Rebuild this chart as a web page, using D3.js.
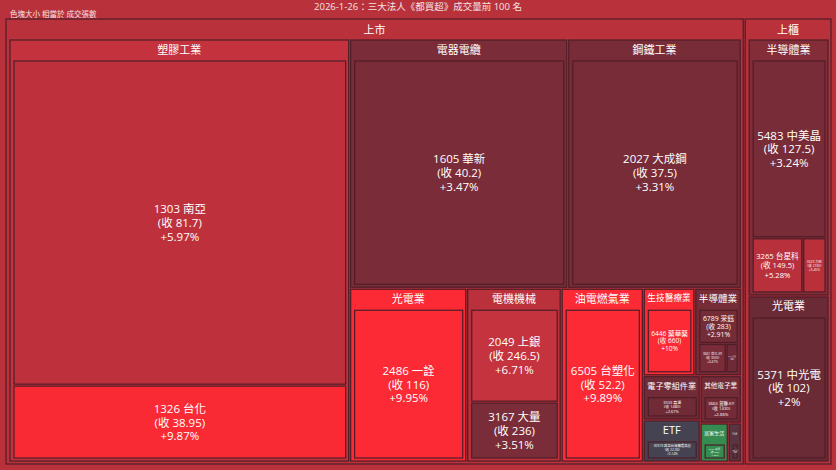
<!DOCTYPE html>
<html><head><meta charset="utf-8">
<script src="https://cdn.jsdelivr.net/npm/d3@7"></script>
<style>html,body{margin:0;padding:0;background:#b8313b;}svg{display:block;}</style>
</head><body>
<svg id="chart" width="836" height="470"></svg>
<script>
const title = "2026-1-26：三大法人《都買超》成交量前 100 名";
const subtitle = "色塊大小 相當於 成交張數";

// one entry per stock
const markets    = ["上市","上市","上市","上市","上市","上市","上市","上市","上市","上市","上市","上市","上市","上市","上市","上市","上市","上櫃","上櫃","上櫃","上櫃"];
const industries = ["塑膠工業","塑膠工業","電器電纜","鋼鐵工業","光電業","電機機械","電機機械","油電燃氣業","生技醫療業","半導體業","半導體業","半導體業","電子零組件業","其他電子業","ETF","居家生活","航運業","半導體業","半導體業","半導體業","光電業"];
const codes      = ["1303","1326","1605","2027","2486","2049","3167","6505","6446","6789","3661","3711","3533","3665","00919","8464","2618","5483","3265","3529","5371"];
const names      = ["南亞","台化","華新","大成鋼","一詮","上銀","大量","台塑化","藥華藥","采鈺","世芯-KY","日月光投控","嘉澤","貿聯-KY","群益台灣精選高息","億豐","長榮航","中美晶","台星科","力旺","中光電"];
const closes     = [81.7,38.95,40.2,37.5,116,246.5,236,52.2,660,283,3550,215,1480,1430,22.06,290,37.6,127.5,149.5,2165,102];
const changes    = [5.97,9.87,3.47,3.31,9.95,6.71,3.51,9.89,10,2.91,3.47,2.38,2.67,2.86,0.14,-1.52,0.94,3.24,5.28,5.45,2];
const volumes    = [114900,26100,53200,42300,19900,9960,6100,13960,4410,2140,1270,556,2460,1900,2340,1070,494,16690,3550,1630,14130];

// colour scale for % change
const colorStops  = [-3,-1,0,1,2,3.5,5.2,7,9.9];
const colorValues = ["#30cc5a","#35764e","#414554","#5b3440","#6a2b36","#7a2c38","#b7303b","#c7333e","#fb2a34"];
const color = d3.scaleLinear().domain(colorStops).range(colorValues).clamp(true);

const BG = "#b8313b", LINE = "#4e1e28", BASE = 11, LEAF = 11.5;
const FONT = "'Open Sans','Noto Sans CJK TC',sans-serif";

// build hierarchy
const rows = codes.map((c,i)=>({code:c,name:names[i],close:closes[i],change:changes[i],volume:volumes[i],market:markets[i],industry:industries[i]}));
const tree = {name:"root", children: Array.from(new Set(markets)).map(m => ({
  name:m,
  children: Array.from(new Set(rows.filter(r=>r.market===m).map(r=>r.industry))).map(ind => ({
    name: ind, children: rows.filter(r=>r.market===m && r.industry===ind)
  }))
}))};

const root = d3.hierarchy(tree).sum(d => d.volume || 0).sort((a,b)=>b.value-a.value);
d3.treemap()
  .tile(d3.treemapSquarify.ratio(1))
  .size([827, 447])
  .paddingInner(2)
  .paddingTop(d => d.depth===0 ? 1 : 21)
  .paddingLeft(d => d.depth===0 ? 1 : 4)
  .paddingRight(d => d.depth===0 ? 1 : 3)
  .paddingBottom(d => d.depth===0 ? 1 : 3)
  (root);

root.each(n => { if (n.children) n.avg = d3.sum(n.leaves(), l => l.data.change*l.value)/n.value; });

const svg = d3.select("#chart").style("font-family", FONT);
svg.append("rect").attr("width",836).attr("height",470).attr("fill",BG);
svg.append("text").attr("x",418).attr("y",6).attr("text-anchor","middle").attr("dominant-baseline","central")
  .attr("font-size",9.5).attr("fill","#f4e4e4").text(title);
svg.append("text").attr("x",10).attr("y",14).attr("dominant-baseline","central")
  .attr("font-size",7.5).attr("fill","#f4e4e4").text(subtitle);

const g = svg.append("g").attr("transform","translate(5,18)");
const nodes = root.descendants().filter(d => d.depth > 0);

g.selectAll("rect.node").data(nodes).join("rect").attr("class","node")
  .attr("x", d=>d.x0).attr("y", d=>d.y0)
  .attr("width", d=>Math.max(0,d.x1-d.x0)).attr("height", d=>Math.max(0,d.y1-d.y0))
  .attr("fill", d => d.depth===1 ? BG : d.children ? color(d.avg) : color(d.data.change))
  .attr("stroke", LINE).attr("stroke-width", 1.2);

const fmtPct = v => (v>0?"+":"") + (+v.toFixed(2)) + "%";

// headers
nodes.filter(d => d.children).forEach(d => {
  const w = d.x1-d.x0;
  const t = g.append("text").attr("x",(d.x0+d.x1)/2).attr("y", d.y0 + (d.depth===1?10.5:9))
    .attr("text-anchor","middle").attr("dominant-baseline","central")
    .attr("fill","#fff").attr("font-size",BASE).text(d.data.name);
  const tw = t.node().getComputedTextLength();
  const fs = Math.max(1, Math.min(BASE, BASE*(w-6)/tw));
  t.attr("font-size", fs);
});

// leaf labels
nodes.filter(d => !d.children).forEach(d => {
  const w = d.x1-d.x0, h = d.y1-d.y0;
  const lines = [`${d.data.code} ${d.data.name}`, `(收 ${d.data.close})`, fmtPct(d.data.change)];
  const t = g.append("text").attr("text-anchor","middle").attr("fill","#fff").attr("font-size",LEAF);
  const sp = t.selectAll("tspan").data(lines).join("tspan").attr("x",(d.x0+d.x1)/2).text(s=>s);
  const maxW = d3.max(sp.nodes(), n => n.getComputedTextLength());
  const fs = Math.max(1, Math.min(LEAF, LEAF*(w-6)/maxW, (h-4)/(lines.length*1.2)));
  const lh = fs*1.2;
  t.attr("font-size", fs);
  sp.attr("dominant-baseline","central")
    .attr("y", (s,i) => (d.y0+d.y1)/2 + (i-(lines.length-1)/2)*lh);
});
</script>
</body></html>
